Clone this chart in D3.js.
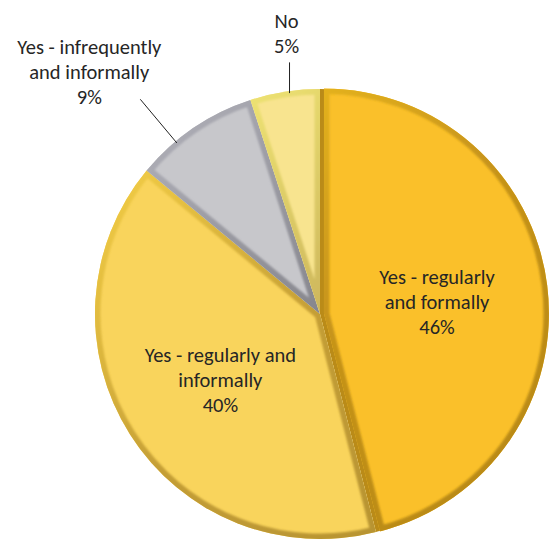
<!DOCTYPE html>
<html>
<head>
<meta charset="utf-8">
<script src="https://cdn.jsdelivr.net/npm/d3@7"></script>
<style>
  body { margin: 0; background: #fff; }
  svg { display: block; }
  text { font-family: Carlito, Calibri, Lato, sans-serif; font-size: 20.5px; fill: #262626; }
</style>
</head>
<body>
<svg id="chart" width="549" height="544"></svg>
<script>
// slices, clockwise from 12 o'clock
const labelLines = [
  ['Yes - regularly', 'and formally'],
  ['Yes - regularly and', 'informally'],
  ['Yes - infrequently', 'and informally'],
  ['No']
];
const values = [46, 40, 9, 5];
const fills = ['#FAC02A', '#F9D45C', '#C7C7CB', '#F8E48F'];
const rims = ['#C8951A', '#C49E36', '#86868D', '#CDB65C'];
const outside = [false, false, true, true];

const width = 549, height = 544;
const cx = 320, cy = 314, radius = 225;
const explode = [4, 0, 0, 0];

const svg = d3.select('#chart');
const defs = svg.append('defs');

const pie = d3.pie().sort(null).value(d => d).startAngle(0);
const arcs = pie(values);
const arc = d3.arc().innerRadius(0).outerRadius(radius);
const labelArc = d3.arc().innerRadius(118).outerRadius(118);

const g = svg.append('g').attr('transform', `translate(${cx},${cy})`);

defs.append('filter').attr('id', 'soft')
  .append('feGaussianBlur').attr('stdDeviation', 1.3);

// dark backing so the pulled-out slice leaves a shaded seam, not a white gap
g.append('path')
  .attr('d', arc(arcs[0]))
  .attr('fill', d3.color(rims[0]).darker(0.2));

arcs.forEach((a, i) => {
  const mid = (a.startAngle + a.endAngle) / 2;
  const dx = Math.sin(mid) * explode[i];
  const dy = -Math.cos(mid) * explode[i];

  // rim gradient: lighter top-left, darker bottom-right
  const grad = defs.append('linearGradient')
    .attr('id', 'rim' + i)
    .attr('gradientUnits', 'userSpaceOnUse')
    .attr('x1', -radius).attr('y1', -radius)
    .attr('x2', radius).attr('y2', radius);
  grad.append('stop').attr('offset', 0).attr('stop-color', d3.color(rims[i]).brighter(0.9));
  grad.append('stop').attr('offset', 0.5).attr('stop-color', rims[i]);
  grad.append('stop').attr('offset', 1).attr('stop-color', d3.color(rims[i]).darker(0.3));

  defs.append('clipPath').attr('id', 'clip' + i)
    .append('path').attr('d', arc(a));

  const sg = g.append('g').attr('transform', `translate(${dx},${dy})`);
  sg.append('path')
    .attr('d', arc(a))
    .attr('fill', fills[i]);
  sg.append('g').attr('clip-path', `url(#clip${i})`)
    .append('path')
    .attr('d', arc(a))
    .attr('fill', 'none')
    .attr('stroke', `url(#rim${i})`)
    .attr('stroke-width', 11)
    .attr('stroke-linejoin', 'round')
    .attr('filter', 'url(#soft)');
});

// labels
const lineH = 25;
arcs.forEach((a, i) => {
  const lines = labelLines[i].concat([values[i] + '%']);
  const mid = (a.startAngle + a.endAngle) / 2;
  if (!outside[i]) {
    const [x, y] = labelArc.centroid(a);
    const tx = x;
    const ty = y;
    const t = g.append('text').attr('text-anchor', 'middle');
    lines.forEach((s, k) => {
      t.append('tspan')
        .attr('x', tx)
        .attr('y', ty + (k - (lines.length - 1) / 2) * lineH + 10)
        .text(s);
    });
  } else {
    // leader lines, nudged slightly off the bisector
    const ang = mid + (i === 2 ? -0.1 : 0.02);
    const r0 = radius - 2, r1 = i === 2 ? 280 : 254;
    const x0 = Math.sin(ang) * r0, y0 = -Math.cos(ang) * r0;
    const x1 = Math.sin(ang) * r1, y1 = -Math.cos(ang) * r1;
    // "No" leader drops straight down
    const ex = i === 3 ? x0 : x1;
    g.append('line')
      .attr('x1', x0).attr('y1', y0)
      .attr('x2', ex).attr('y2', y1)
      .attr('stroke', '#222').attr('stroke-width', 1);
    const tx = i === 2 ? x1 - 51 : x0 - 3;
    const lastY = i === 2 ? y1 + 5 : y1 - 9;
    const t = g.append('text').attr('text-anchor', 'middle');
    lines.forEach((s, k) => {
      t.append('tspan')
        .attr('x', tx)
        .attr('y', lastY - (lines.length - 1 - k) * lineH)
        .text(s);
    });
  }
});
</script>
</body>
</html>
